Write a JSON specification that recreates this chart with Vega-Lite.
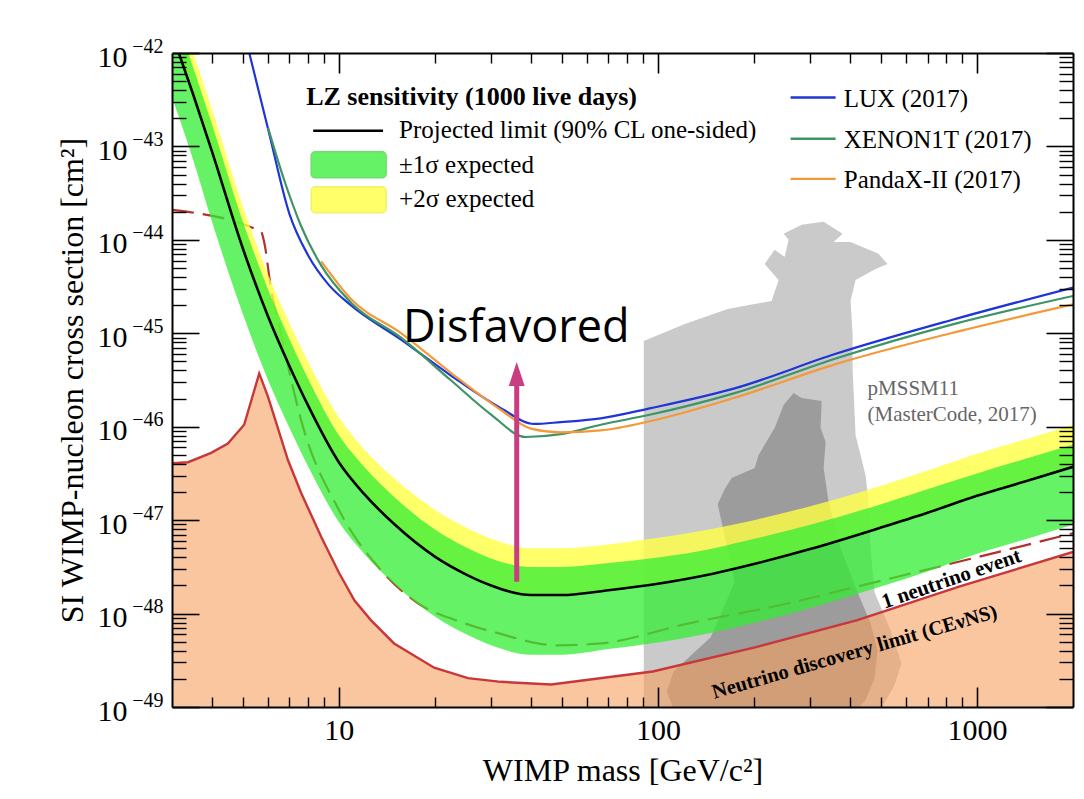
{
  "$schema": "https://vega.github.io/schema/vega-lite/v6.json",
  "autosize": {"type": "none"},
  "width": 901,
  "height": 654,
  "padding": {"left": 172, "top": 53, "right": 11, "bottom": 92},
  "background": "white",
  "config": {
    "view": {"stroke": null},
    "text": {"font": "Liberation Serif", "color": "black"}
  },
  "resolve": {"axis": {"x": "independent", "y": "independent"}},
  "datasets": {
    "pm_light": [
      {"i": 0, "m": 90.3, "s": 5e-50}, {"i": 1, "m": 90.3, "s": 8.28e-46}, {"i": 2, "m": 121.4, "s": 1.26e-45},
      {"i": 3, "m": 165.5, "s": 1.82e-45}, {"i": 4, "m": 227.2, "s": 2.22e-45}, {"i": 5, "m": 239.0, "s": 3.72e-45},
      {"i": 6, "m": 216.0, "s": 5.53e-45}, {"i": 7, "m": 232.2, "s": 7.82e-45}, {"i": 8, "m": 249.6, "s": 6.58e-45},
      {"i": 9, "m": 256.9, "s": 1.0e-44}, {"i": 10, "m": 247.8, "s": 1.16e-44}, {"i": 11, "m": 282.1, "s": 1.45e-44},
      {"i": 12, "m": 330.7, "s": 1.56e-44}, {"i": 13, "m": 379.2, "s": 1.16e-44}, {"i": 14, "m": 355.4, "s": 9.51e-45},
      {"i": 15, "m": 401.7, "s": 9.51e-45}, {"i": 16, "m": 491.5, "s": 7.08e-45}, {"i": 17, "m": 524.4, "s": 5.53e-45},
      {"i": 18, "m": 481.0, "s": 4.89e-45}, {"i": 19, "m": 416.4, "s": 3.72e-45}, {"i": 20, "m": 401.7, "s": 2.22e-45},
      {"i": 21, "m": 407.5, "s": 9.84e-46}, {"i": 22, "m": 407.5, "s": 4.25e-46}, {"i": 23, "m": 416.4, "s": 8.15e-47},
      {"i": 24, "m": 447.6, "s": 3.03e-47}, {"i": 25, "m": 457.4, "s": 1.56e-47}, {"i": 26, "m": 464.0, "s": 5.01e-48},
      {"i": 27, "m": 477.5, "s": 1.69e-48}, {"i": 28, "m": 535.9, "s": 6.62e-49}, {"i": 29, "m": 580.1, "s": 2.94e-49},
      {"i": 30, "m": 551.5, "s": 1.71e-49}, {"i": 31, "m": 495.1, "s": 8.97e-50}, {"i": 32, "m": 464.0, "s": 5e-50}
    ],
    "pm_dark": [
      {"i": 0, "m": 266.3, "s": 2.29e-46}, {"i": 1, "m": 282.1, "s": 2.03e-46}, {"i": 2, "m": 326.0, "s": 1.88e-46},
      {"i": 3, "m": 323.6, "s": 9.68e-47}, {"i": 4, "m": 335.5, "s": 6.85e-47}, {"i": 5, "m": 330.7, "s": 3.61e-47},
      {"i": 6, "m": 342.8, "s": 1.56e-47}, {"i": 7, "m": 373.8, "s": 5.01e-48}, {"i": 8, "m": 422.5, "s": 1.69e-48},
      {"i": 9, "m": 464.0, "s": 7.87e-49}, {"i": 10, "m": 488.0, "s": 4.05e-49}, {"i": 11, "m": 477.5, "s": 2.03e-49},
      {"i": 12, "m": 447.6, "s": 1.18e-49}, {"i": 13, "m": 401.7, "s": 8.13e-50}, {"i": 14, "m": 117.9, "s": 6e-50},
      {"i": 15, "m": 106.6, "s": 1.47e-49}, {"i": 16, "m": 112.1, "s": 2.41e-49}, {"i": 17, "m": 146.4, "s": 5.57e-49},
      {"i": 18, "m": 174.0, "s": 2.16e-48}, {"i": 19, "m": 154.0, "s": 1.48e-47}, {"i": 20, "m": 162.0, "s": 2.15e-47},
      {"i": 21, "m": 170.3, "s": 2.82e-47}, {"i": 22, "m": 201.1, "s": 3.61e-47}, {"i": 23, "m": 206.9, "s": 4.98e-47},
      {"i": 24, "m": 232.2, "s": 9.68e-47}, {"i": 25, "m": 247.8, "s": 1.71e-46}
    ],
    "nu": [
      {"m": 3.0, "s": 4.07e-47}, {"m": 3.37, "s": 4.17e-47}, {"m": 3.98, "s": 5.25e-47}, {"m": 4.49, "s": 6.61e-47},
      {"m": 5.05, "s": 1.05e-46}, {"m": 5.63, "s": 3.72e-46}, {"m": 6.0, "s": 2.09e-46}, {"m": 6.93, "s": 4.37e-47},
      {"m": 7.62, "s": 1.95e-47}, {"m": 8.81, "s": 6.61e-48}, {"m": 10, "s": 2.75e-48}, {"m": 11.2, "s": 1.38e-48},
      {"m": 12.6, "s": 8.51e-49}, {"m": 14.9, "s": 4.79e-49}, {"m": 19.9, "s": 2.63e-49}, {"m": 25.4, "s": 2.04e-49},
      {"m": 32.2, "s": 1.86e-49}, {"m": 46.3, "s": 1.74e-49}, {"m": 96.4, "s": 2.4e-49}, {"m": 203, "s": 4.37e-49},
      {"m": 422, "s": 8.51e-49}, {"m": 884, "s": 1.95e-48}, {"m": 2000, "s": 4.57e-48}
    ],
    "nu1": [
      {"m": 3.0, "s": 2.09e-44}, {"m": 5.7, "s": 1.23e-44}, {"m": 5.84, "s": 9.33e-45}, {"m": 6.14, "s": 2.88e-45},
      {"m": 6.46, "s": 1.38e-45}, {"m": 7.09, "s": 3.16e-46}, {"m": 7.62, "s": 1.17e-46}, {"m": 10, "s": 1.29e-47},
      {"m": 13.6, "s": 2.88e-48}, {"m": 17.7, "s": 1.29e-48}, {"m": 24.1, "s": 8.13e-49}, {"m": 31.5, "s": 6.17e-49},
      {"m": 48.5, "s": 4.57e-49}, {"m": 66.2, "s": 4.79e-49}, {"m": 123, "s": 7.76e-49}, {"m": 257, "s": 1.29e-48},
      {"m": 422, "s": 1.95e-48}, {"m": 993, "s": 3.98e-48}, {"m": 2000, "s": 7.24e-48}
    ],
    "band": [
      {"m": 3, "b": 1.62e-42, "h1": 3.16e-42, "h2": 4.57e-42, "l1": 3.39e-43},
      {"m": 3.5, "b": 3.55e-43, "h1": 6.92e-43, "h2": 1.0e-42, "l1": 7.08e-44},
      {"m": 4, "b": 8.91e-44, "h1": 1.74e-43, "h2": 2.51e-43, "l1": 1.58e-44},
      {"m": 5, "b": 8.13e-45, "h1": 1.58e-44, "h2": 2.29e-44, "l1": 1.62e-45},
      {"m": 6, "b": 1.51e-45, "h1": 2.95e-45, "h2": 4.27e-45, "l1": 3.16e-46},
      {"m": 7, "b": 4.47e-46, "h1": 8.71e-46, "h2": 1.29e-45, "l1": 9.77e-47},
      {"m": 8, "b": 1.70e-46, "h1": 3.31e-46, "h2": 5.01e-46, "l1": 3.80e-47},
      {"m": 10, "b": 4.17e-47, "h1": 8.13e-47, "h2": 1.26e-46, "l1": 9.55e-48},
      {"m": 12, "b": 1.91e-47, "h1": 3.72e-47, "h2": 5.75e-47, "l1": 4.37e-48},
      {"m": 15, "b": 8.91e-48, "h1": 1.74e-47, "h2": 2.75e-47, "l1": 2.04e-48},
      {"m": 20, "b": 4.07e-48, "h1": 7.94e-48, "h2": 1.29e-47, "l1": 9.33e-49},
      {"m": 25, "b": 2.63e-48, "h1": 5.13e-48, "h2": 8.32e-48, "l1": 6.03e-49},
      {"m": 30, "b": 2.0e-48, "h1": 3.89e-48, "h2": 6.31e-48, "l1": 4.57e-49},
      {"m": 40, "b": 1.58e-48, "h1": 3.16e-48, "h2": 5.01e-48, "l1": 3.63e-49},
      {"m": 50, "b": 1.58e-48, "h1": 3.16e-48, "h2": 5.01e-48, "l1": 3.63e-49},
      {"m": 70, "b": 1.78e-48, "h1": 3.47e-48, "h2": 5.5e-48, "l1": 4.17e-49},
      {"m": 100, "b": 2.09e-48, "h1": 3.98e-48, "h2": 6.46e-48, "l1": 4.9e-49},
      {"m": 150, "b": 2.69e-48, "h1": 5.01e-48, "h2": 8.13e-48, "l1": 6.31e-49},
      {"m": 200, "b": 3.39e-48, "h1": 6.31e-48, "h2": 1.0e-47, "l1": 7.94e-49},
      {"m": 300, "b": 4.9e-48, "h1": 8.91e-48, "h2": 1.41e-47, "l1": 1.15e-48},
      {"m": 500, "b": 8.32e-48, "h1": 1.48e-47, "h2": 2.34e-47, "l1": 1.95e-48},
      {"m": 700, "b": 1.2e-47, "h1": 2.14e-47, "h2": 3.39e-47, "l1": 2.82e-48},
      {"m": 1000, "b": 1.82e-47, "h1": 3.16e-47, "h2": 5.13e-47, "l1": 4.37e-48},
      {"m": 1500, "b": 2.75e-47, "h1": 4.79e-47, "h2": 7.76e-47, "l1": 6.61e-48},
      {"m": 2000, "b": 3.72e-47, "h1": 6.46e-47, "h2": 1.05e-46, "l1": 8.91e-48}
    ],
    "exp": [
      {"exp": "LUX (2017)", "m": 5.0, "s": 1.9e-42}, {"exp": "LUX (2017)", "m": 5.24, "s": 1.0e-42},
      {"exp": "LUX (2017)", "m": 6.01, "s": 1.51e-43}, {"exp": "LUX (2017)", "m": 7.0, "s": 1.9e-44},
      {"exp": "LUX (2017)", "m": 8.0, "s": 6.9e-45},
      {"exp": "LUX (2017)", "m": 9.3, "s": 3.3e-45}, {"exp": "LUX (2017)", "m": 10.9, "s": 2.0e-45},
      {"exp": "LUX (2017)", "m": 15.7, "s": 8.51e-46}, {"exp": "LUX (2017)", "m": 22.4, "s": 3.55e-46},
      {"exp": "LUX (2017)", "m": 32.2, "s": 1.58e-46}, {"exp": "LUX (2017)", "m": 40.9, "s": 1.07e-46},
      {"exp": "LUX (2017)", "m": 49.6, "s": 1.12e-46}, {"exp": "LUX (2017)", "m": 66.2, "s": 1.23e-46},
      {"exp": "LUX (2017)", "m": 95, "s": 1.58e-46}, {"exp": "LUX (2017)", "m": 174, "s": 2.57e-46},
      {"exp": "LUX (2017)", "m": 361, "s": 6.03e-46}, {"exp": "LUX (2017)", "m": 828, "s": 1.38e-45},
      {"exp": "LUX (2017)", "m": 2000, "s": 3.09e-45},
      {"exp": "XENON1T (2017)", "m": 6.0, "s": 1.58e-43}, {"exp": "XENON1T (2017)", "m": 6.74, "s": 4.37e-44},
      {"exp": "XENON1T (2017)", "m": 7.62, "s": 1.4e-44}, {"exp": "XENON1T (2017)", "m": 8.81, "s": 5.3e-45},
      {"exp": "XENON1T (2017)", "m": 10.9, "s": 2.14e-45}, {"exp": "XENON1T (2017)", "m": 15.7, "s": 8.91e-46},
      {"exp": "XENON1T (2017)", "m": 22.4, "s": 3.16e-46}, {"exp": "XENON1T (2017)", "m": 30, "s": 1.35e-46},
      {"exp": "XENON1T (2017)", "m": 38.5, "s": 7.76e-47}, {"exp": "XENON1T (2017)", "m": 49.6, "s": 8.32e-47},
      {"exp": "XENON1T (2017)", "m": 66.2, "s": 1.05e-46}, {"exp": "XENON1T (2017)", "m": 95, "s": 1.35e-46},
      {"exp": "XENON1T (2017)", "m": 174, "s": 2.29e-46}, {"exp": "XENON1T (2017)", "m": 361, "s": 5.37e-46},
      {"exp": "XENON1T (2017)", "m": 828, "s": 1.23e-45}, {"exp": "XENON1T (2017)", "m": 2000, "s": 2.51e-45},
      {"exp": "PandaX-II (2017)", "m": 8.81, "s": 5.89e-45}, {"exp": "PandaX-II (2017)", "m": 10.9, "s": 2.34e-45},
      {"exp": "PandaX-II (2017)", "m": 15.7, "s": 1.0e-45}, {"exp": "PandaX-II (2017)", "m": 22.4, "s": 3.8e-46},
      {"exp": "PandaX-II (2017)", "m": 32.2, "s": 1.51e-46}, {"exp": "PandaX-II (2017)", "m": 40, "s": 9.55e-47},
      {"exp": "PandaX-II (2017)", "m": 49.6, "s": 8.71e-47}, {"exp": "PandaX-II (2017)", "m": 66.2, "s": 9.12e-47},
      {"exp": "PandaX-II (2017)", "m": 95, "s": 1.15e-46}, {"exp": "PandaX-II (2017)", "m": 174, "s": 2.04e-46},
      {"exp": "PandaX-II (2017)", "m": 361, "s": 4.68e-46}, {"exp": "PandaX-II (2017)", "m": 828, "s": 1.0e-45},
      {"exp": "PandaX-II (2017)", "m": 2000, "s": 2.04e-45}
    ]
  },
  "encoding": {
    "x": {"field": "m", "type": "quantitative", "scale": {"type": "log", "domain": [3, 2000], "nice": false}, "axis": null},
    "y": {"field": "s", "type": "quantitative", "scale": {"type": "log", "domain": [1e-49, 1e-42], "nice": false}, "axis": null}
  },
  "layer": [
    {
      "data": {"name": "pm_light"},
      "mark": {"type": "line", "fill": "#cacaca", "strokeOpacity": 0, "clip": true},
      "encoding": {
        "order": {"field": "i", "type": "quantitative"},
        "x": {"field": "m", "type": "quantitative", "scale": {"type": "log", "domain": [3, 2000], "nice": false},
          "axis": {"orient": "bottom", "values": [10, 100, 1000], "labelExpr": "format(datum.value, 'd')",
            "tickSize": -20, "tickWidth": 1.6, "tickColor": "black", "domain": true, "domainColor": "black", "domainWidth": 2,
            "labelFont": "Liberation Serif", "labelFontSize": 30, "labelColor": "black", "labelPadding": 28,
            "labelOverlap": false, "labelFlush": false, "labelBound": false,
            "title": "WIMP mass [GeV/c²]", "titleFont": "Liberation Serif", "titleFontSize": 32, "titleFontWeight": "normal",
            "titleColor": "black", "titlePadding": 10, "grid": false, "zindex": 2}},
        "y": {"field": "s", "type": "quantitative", "scale": {"type": "log", "domain": [1e-49, 1e-42], "nice": false},
          "axis": {"orient": "left", "values": [1e-49, 1e-48, 1e-47, 1e-46, 1e-45, 1e-44, 1e-43, 1e-42], "labelExpr": "'10'",
            "tickSize": -27, "tickWidth": 1.6, "tickColor": "black", "domain": true, "domainColor": "black", "domainWidth": 2,
            "labelFont": "Liberation Serif", "labelFontSize": 30, "labelColor": "black", "labelPadding": 72, "labelOffset": 4,
            "labelAlign": "right", "labelBaseline": "middle", "labelOverlap": false, "labelFlush": false, "labelBound": false,
            "title": "SI WIMP-nucleon cross section [cm²]", "titleFont": "Liberation Serif", "titleFontSize": 32,
            "titleFontWeight": "normal", "titleColor": "black", "titlePadding": 8, "grid": false, "zindex": 2}}
      }
    },
    {
      "data": {"name": "pm_dark"},
      "mark": {"type": "line", "fill": "#9c9c9c", "strokeOpacity": 0, "clip": true},
      "encoding": {
        "order": {"field": "i", "type": "quantitative"},
        "x": {"field": "m", "type": "quantitative", "scale": {"type": "log", "domain": [3, 2000], "nice": false},
          "axis": {"orient": "bottom", "values": [4, 5, 6, 7, 8, 9, 20, 30, 40, 50, 60, 70, 80, 90, 200, 300, 400, 500, 600, 700, 800, 900],
            "tickSize": -10, "tickWidth": 1.4, "tickColor": "black", "domain": false, "labels": false, "title": null, "grid": false, "zindex": 2}},
        "y": {"field": "s", "type": "quantitative", "scale": {"type": "log", "domain": [1e-49, 1e-42], "nice": false},
          "axis": {"orient": "left", "values": [2e-49, 3e-49, 4e-49, 5e-49, 6e-49, 7e-49, 8e-49, 9e-49, 2e-48, 3e-48, 4e-48, 5e-48, 6e-48, 7e-48, 8e-48, 9e-48, 2e-47, 3e-47, 4e-47, 5e-47, 6e-47, 7e-47, 8e-47, 9e-47, 2e-46, 3e-46, 4e-46, 5e-46, 6e-46, 7e-46, 8e-46, 9e-46, 2e-45, 3e-45, 4e-45, 5e-45, 6e-45, 7e-45, 8e-45, 9e-45, 2e-44, 3e-44, 4e-44, 5e-44, 6e-44, 7e-44, 8e-44, 9e-44, 2e-43, 3e-43, 4e-43, 5e-43, 6e-43, 7e-43, 8e-43, 9e-43],
            "tickSize": -14, "tickWidth": 1.4, "tickColor": "black", "domain": false, "labels": false, "title": null, "grid": false, "zindex": 2}}
      }
    },
    {
      "data": {"name": "nu"},
      "mark": {"type": "area", "color": "#f5a060", "opacity": 0.6, "clip": true},
      "encoding": {
        "x": {"field": "m", "type": "quantitative", "scale": {"type": "log", "domain": [3, 2000], "nice": false},
          "axis": {"orient": "top", "values": [10, 100, 1000], "tickSize": -20, "tickWidth": 1.6, "tickColor": "black",
            "domain": true, "domainColor": "black", "domainWidth": 2, "labels": false, "title": null, "grid": false, "zindex": 2}},
        "y": {"field": "s", "type": "quantitative", "scale": {"type": "log", "domain": [1e-49, 1e-42], "nice": false},
          "axis": {"orient": "right", "values": [1e-49, 1e-48, 1e-47, 1e-46, 1e-45, 1e-44, 1e-43, 1e-42], "tickSize": -27, "tickWidth": 1.6,
            "tickColor": "black", "domain": true, "domainColor": "black", "domainWidth": 2, "labels": false, "title": null, "grid": false, "zindex": 2}},
        "y2": {"datum": 1e-50}
      }
    },
    {
      "data": {"name": "nu1"},
      "mark": {"type": "line", "color": "#b3302c", "strokeWidth": 2.2, "strokeDash": [22, 9], "interpolate": "monotone", "clip": true},
      "encoding": {
        "x": {"field": "m", "type": "quantitative", "scale": {"type": "log", "domain": [3, 2000], "nice": false},
          "axis": {"orient": "top", "values": [4, 5, 6, 7, 8, 9, 20, 30, 40, 50, 60, 70, 80, 90, 200, 300, 400, 500, 600, 700, 800, 900],
            "tickSize": -10, "tickWidth": 1.4, "tickColor": "black", "domain": false, "labels": false, "title": null, "grid": false, "zindex": 2}},
        "y": {"field": "s", "type": "quantitative", "scale": {"type": "log", "domain": [1e-49, 1e-42], "nice": false},
          "axis": {"orient": "right", "values": [2e-49, 3e-49, 4e-49, 5e-49, 6e-49, 7e-49, 8e-49, 9e-49, 2e-48, 3e-48, 4e-48, 5e-48, 6e-48, 7e-48, 8e-48, 9e-48, 2e-47, 3e-47, 4e-47, 5e-47, 6e-47, 7e-47, 8e-47, 9e-47, 2e-46, 3e-46, 4e-46, 5e-46, 6e-46, 7e-46, 8e-46, 9e-46, 2e-45, 3e-45, 4e-45, 5e-45, 6e-45, 7e-45, 8e-45, 9e-45, 2e-44, 3e-44, 4e-44, 5e-44, 6e-44, 7e-44, 8e-44, 9e-44, 2e-43, 3e-43, 4e-43, 5e-43, 6e-43, 7e-43, 8e-43, 9e-43],
            "tickSize": -14, "tickWidth": 1.4, "tickColor": "black", "domain": false, "labels": false, "title": null, "grid": false, "zindex": 2}}
      }
    },
    {
      "data": {"name": "nu"},
      "mark": {"type": "line", "color": "#c8373a", "strokeWidth": 2.4, "clip": true},
      "encoding": {
        "y": {"field": "s", "type": "quantitative", "scale": {"type": "log", "domain": [1e-49, 1e-42], "nice": false},
          "axis": {"orient": "left", "values": [1e-49, 1e-48, 1e-47, 1e-46, 1e-45, 1e-44, 1e-43, 1e-42],
            "labelExpr": "'−' + round(-log(datum.value) / LN10)", "ticks": false, "domain": false,
            "labelFont": "Liberation Serif", "labelFontSize": 20, "labelColor": "black", "labelPadding": 9, "labelOffset": -7,
            "labelAlign": "right", "labelBaseline": "middle", "labelOverlap": false, "labelFlush": false, "labelBound": false,
            "title": null, "grid": false, "zindex": 2}}
      }
    },
    {
      "data": {"name": "band"},
      "mark": {"type": "area", "color": "#ffff44", "opacity": 0.8, "interpolate": "monotone", "clip": true},
      "encoding": {
        "y": {"field": "h2", "type": "quantitative", "scale": {"type": "log", "domain": [1e-49, 1e-42], "nice": false}, "axis": null},
        "y2": {"field": "b"}
      }
    },
    {
      "data": {"name": "band"},
      "mark": {"type": "area", "color": "#33ee33", "opacity": 0.75, "interpolate": "monotone", "clip": true},
      "encoding": {
        "y": {"field": "h1", "type": "quantitative", "scale": {"type": "log", "domain": [1e-49, 1e-42], "nice": false}, "axis": null},
        "y2": {"field": "l1"}
      }
    },
    {
      "data": {"name": "band"},
      "mark": {"type": "line", "color": "black", "strokeWidth": 2.6, "interpolate": "monotone", "clip": true},
      "encoding": {
        "y": {"field": "b", "type": "quantitative", "scale": {"type": "log", "domain": [1e-49, 1e-42], "nice": false}, "axis": null}
      }
    },
    {
      "data": {"name": "exp"},
      "mark": {"type": "line", "strokeWidth": 2.2, "interpolate": "monotone", "clip": true},
      "encoding": {
        "color": {"field": "exp", "type": "nominal", "legend": null,
          "scale": {"domain": ["LUX (2017)", "XENON1T (2017)", "PandaX-II (2017)"], "range": ["#1f35d6", "#3d9464", "#f4993a"]}}
      }
    },
    {
      "data": {"values": [{"m": 36.1, "from": 2.19e-48, "to": 3.66e-46}]},
      "mark": {"type": "rule", "color": "#c93d83", "strokeWidth": 5},
      "encoding": {
        "y": {"field": "from", "type": "quantitative", "scale": {"type": "log", "domain": [1e-49, 1e-42], "nice": false}, "axis": null},
        "y2": {"field": "to"}
      }
    },
    {
      "data": {"values": [{"m": 36.1, "from": 2.19e-48, "to": 3.66e-46}]},
      "mark": {"type": "point", "shape": "M0,-1L0.66,1L-0.66,1Z", "size": 576, "filled": true, "color": "#c93d83", "opacity": 1},
      "encoding": {
        "y": {"field": "to", "type": "quantitative", "scale": {"type": "log", "domain": [1e-49, 1e-42], "nice": false}, "axis": null}
      }
    },
    {
      "data": {"values": [
        {"exp": "LUX (2017)", "m": 260.6, "m2": 360.6, "s": 3.34e-43},
        {"exp": "XENON1T (2017)", "m": 260.6, "m2": 360.6, "s": 1.21e-43},
        {"exp": "PandaX-II (2017)", "m": 260.6, "m2": 360.6, "s": 4.5e-44}
      ]},
      "mark": {"type": "rule", "strokeWidth": 2.4},
      "encoding": {
        "x2": {"field": "m2"},
        "color": {"field": "exp", "type": "nominal", "legend": null,
          "scale": {"domain": ["LUX (2017)", "XENON1T (2017)", "PandaX-II (2017)"], "range": ["#1f35d6", "#3d9464", "#f4993a"]}}
      }
    },
    {
      "data": {"values": [{"m": 8.31, "m2": 13.76, "s": 1.47e-43}]},
      "mark": {"type": "rule", "color": "black", "strokeWidth": 2.6},
      "encoding": {"x2": {"field": "m2"}}
    },
    {
      "data": {"values": [{"m": 8.19, "m2": 14.07, "s": 8.77e-44, "s2": 4.61e-44}]},
      "mark": {"type": "rect", "color": "#33ee33", "opacity": 0.75, "cornerRadius": 4, "stroke": "#3ad83a", "strokeWidth": 1.5},
      "encoding": {"x2": {"field": "m2"}, "y2": {"field": "s2"}}
    },
    {
      "data": {"values": [{"m": 8.19, "m2": 14.07, "s": 3.7e-44, "s2": 1.95e-44}]},
      "mark": {"type": "rect", "color": "#ffff44", "opacity": 0.8, "cornerRadius": 4, "stroke": "#f0f040", "strokeWidth": 1.5},
      "encoding": {"x2": {"field": "m2"}, "y2": {"field": "s2"}}
    },
    {
      "data": {"values": [{"m": 7.9, "s": 3.39e-43, "label": "LZ sensitivity (1000 live days)"}]},
      "mark": {"type": "text", "font": "Liberation Serif", "fontWeight": "bold", "fontSize": 26, "align": "left", "baseline": "middle"},
      "encoding": {"text": {"field": "label"}}
    },
    {
      "data": {"values": [
        {"m": 15.45, "s": 1.51e-43, "label": "Projected limit (90% CL one-sided)"},
        {"m": 15.45, "s": 6.35e-44, "label": "±1σ expected"},
        {"m": 15.45, "s": 2.75e-44, "label": "+2σ expected"},
        {"m": 382.4, "s": 3.21e-43, "label": "LUX (2017)"},
        {"m": 382.4, "s": 1.18e-43, "label": "XENON1T (2017)"},
        {"m": 382.4, "s": 4.4e-44, "label": "PandaX-II (2017)"}
      ]},
      "mark": {"type": "text", "font": "Liberation Serif", "fontSize": 25, "align": "left", "baseline": "middle"},
      "encoding": {"text": {"field": "label"}}
    },
    {
      "data": {"values": [
        {"m": 454, "s": 2.53e-46, "label": "pMSSM11"},
        {"m": 454, "s": 1.33e-46, "label": "(MasterCode, 2017)"}
      ]},
      "mark": {"type": "text", "font": "Liberation Serif", "fontSize": 21, "color": "#666666", "align": "left", "baseline": "middle"},
      "encoding": {"text": {"field": "label"}}
    },
    {
      "data": {"values": [{"m": 15.9, "s": 1.14e-45, "label": "Disfavored"}]},
      "mark": {"type": "text", "font": "Open Sans", "fontSize": 45, "align": "left", "baseline": "middle"},
      "encoding": {"text": {"field": "label"}}
    },
    {
      "data": {"values": [{"m": 832, "s": 2.33e-48, "label": "1 neutrino event"}]},
      "mark": {"type": "text", "font": "Liberation Serif", "fontWeight": "bold", "fontSize": 21, "angle": 341, "align": "center", "baseline": "middle"},
      "encoding": {"text": {"field": "label"}}
    },
    {
      "data": {"values": [{"m": 413.6, "s": 3.85e-49, "label": "Neutrino discovery limit (CEνNS)"}]},
      "mark": {"type": "text", "font": "Liberation Serif", "fontWeight": "bold", "fontSize": 20.5, "angle": 344, "align": "center", "baseline": "middle"},
      "encoding": {"text": {"field": "label"}}
    }
  ]
}
